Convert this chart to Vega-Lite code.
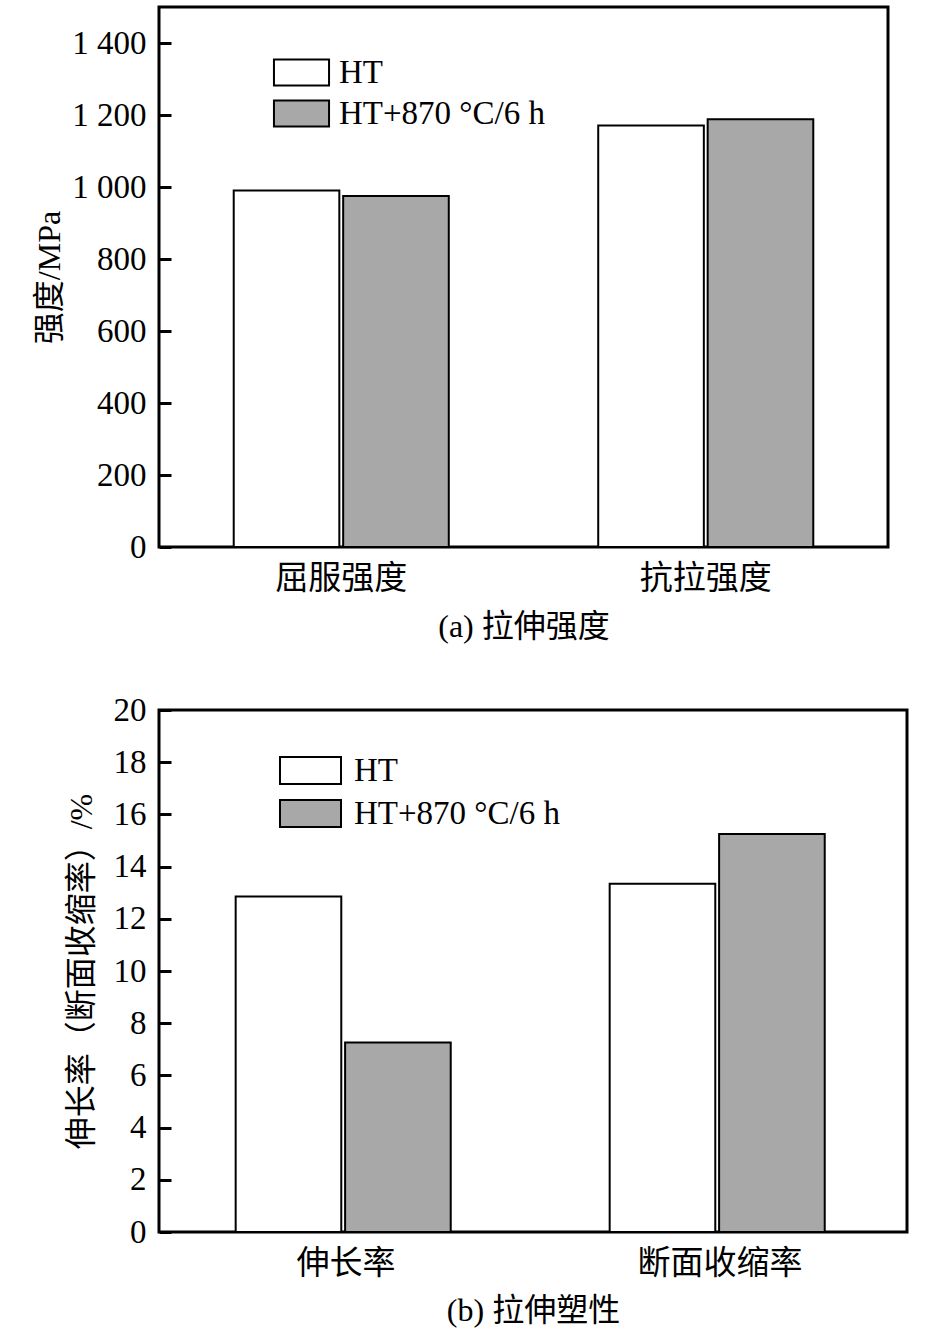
{
  "$schema": "https://vega.github.io/schema/vega-lite/v6.json",
  "padding": {"left": 31, "top": 5, "right": 5, "bottom": 5},
  "spacing": 48,
  "config": {
    "font": "Liberation Serif, Noto Sans CJK SC",
    "view": {"stroke": "black", "strokeWidth": 3},
    "axis": {
      "domain": false,
      "grid": false,
      "labelColor": "black",
      "titleColor": "black",
      "labelFontSize": 33,
      "titleFontSize": 32,
      "titleFontWeight": "normal",
      "labelFont": "Liberation Serif, Noto Sans CJK SC",
      "titleFont": "Liberation Serif, Noto Sans CJK SC"
    },
    "legend": {
      "labelFontSize": 33,
      "labelColor": "black",
      "labelLimit": 0,
      "labelFont": "Liberation Serif, Noto Sans CJK SC",
      "symbolStrokeColor": "black",
      "symbolStrokeWidth": 2,
      "symbolOpacity": 1,
      "padding": 0
    }
  },
  "vconcat": [
    {
      "width": 729,
      "height": 540,
      "data": {
        "values": [
          {"property": "屈服强度", "treatment": "HT", "value": 990},
          {"property": "屈服强度", "treatment": "HT+870 °C/6 h", "value": 975},
          {"property": "抗拉强度", "treatment": "HT", "value": 1171},
          {"property": "抗拉强度", "treatment": "HT+870 °C/6 h", "value": 1188}
        ]
      },
      "mark": {"type": "bar", "stroke": "black", "strokeWidth": 2},
      "encoding": {
        "x": {
          "field": "property",
          "type": "nominal",
          "sort": ["屈服强度", "抗拉强度"],
          "scale": {"paddingInner": 0.41, "paddingOuter": 0.205},
          "axis": {
            "title": "(a) 拉伸强度",
            "labelAngle": 0,
            "ticks": false,
            "labelPadding": 15,
            "titlePadding": 16
          }
        },
        "xOffset": {
          "field": "treatment",
          "sort": ["HT", "HT+870 °C/6 h"],
          "scale": {"paddingInner": 0.035}
        },
        "y": {
          "field": "value",
          "type": "quantitative",
          "scale": {"domain": [0, 1500], "nice": false},
          "axis": {
            "title": "强度/MPa",
            "values": [0, 200, 400, 600, 800, 1000, 1200, 1400],
            "labelExpr": "replace(format(datum.value, ','), ',', ' ')",
            "tickSize": -12,
            "tickWidth": 3,
            "tickColor": "black",
            "labelPadding": 25,
            "titleX": -93
          }
        },
        "fill": {
          "field": "treatment",
          "type": "nominal",
          "scale": {"domain": ["HT", "HT+870 °C/6 h"], "range": ["white", "#a8a8a8"]},
          "legend": {
            "title": null,
            "orient": "none",
            "legendX": 126,
            "legendY": 49,
            "symbolType": "M-2.04,-0.963H2.04V0.963H-2.04Z",
            "symbolSize": 729,
            "labelOffset": 21,
            "rowPadding": 6
          }
        }
      }
    },
    {
      "width": 748,
      "height": 522,
      "data": {
        "values": [
          {"property": "伸长率", "treatment": "HT", "value": 12.85},
          {"property": "伸长率", "treatment": "HT+870 °C/6 h", "value": 7.26},
          {"property": "断面收缩率", "treatment": "HT", "value": 13.34},
          {"property": "断面收缩率", "treatment": "HT+870 °C/6 h", "value": 15.25}
        ]
      },
      "mark": {"type": "bar", "stroke": "black", "strokeWidth": 2},
      "encoding": {
        "x": {
          "field": "property",
          "type": "nominal",
          "sort": ["伸长率", "断面收缩率"],
          "scale": {"paddingInner": 0.41, "paddingOuter": 0.205},
          "axis": {
            "title": "(b) 拉伸塑性",
            "labelAngle": 0,
            "ticks": false,
            "labelPadding": 15,
            "titlePadding": 15
          }
        },
        "xOffset": {
          "field": "treatment",
          "sort": ["HT", "HT+870 °C/6 h"],
          "scale": {"paddingInner": 0.035}
        },
        "y": {
          "field": "value",
          "type": "quantitative",
          "scale": {"domain": [0, 20], "nice": false},
          "axis": {
            "title": "伸长率（断面收缩率）/%",
            "values": [0, 2, 4, 6, 8, 10, 12, 14, 16, 18, 20],
            "tickSize": -12,
            "tickWidth": 3,
            "tickColor": "black",
            "labelPadding": 25,
            "titleX": -61
          }
        },
        "fill": {
          "field": "treatment",
          "type": "nominal",
          "scale": {"domain": ["HT", "HT+870 °C/6 h"], "range": ["white", "#a8a8a8"]},
          "legend": {
            "title": null,
            "orient": "none",
            "legendX": 135,
            "legendY": 44,
            "symbolType": "M-2.26,-1H2.26V1H-2.26Z",
            "symbolSize": 729,
            "labelOffset": 27,
            "rowPadding": 8
          }
        }
      }
    }
  ],
  "resolve": {"scale": {"fill": "independent"}, "legend": {"fill": "independent"}}
}
